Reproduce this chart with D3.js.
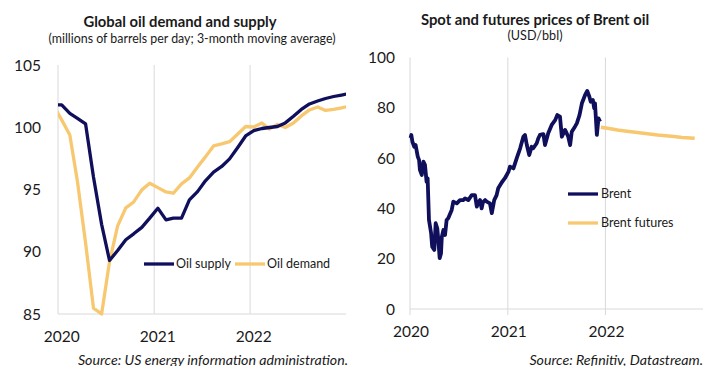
<!DOCTYPE html>
<html><head><meta charset="utf-8">
<script src="https://cdn.jsdelivr.net/npm/d3@7"></script>
<style>
html,body{margin:0;padding:0;background:#fff;}
text{font-family:Lato,"Noto Sans",sans-serif;fill:#1a1a1a;}
</style></head>
<body><svg id="c" width="723" height="384"></svg>
<script>
// ---------- DATA: left chart (monthly, 3-month moving average, mb/d) ----------
const leftMonths = ["2019-12","2020-01","2020-02","2020-03","2020-04","2020-05","2020-06","2020-07","2020-08","2020-09","2020-10","2020-11","2020-12",
  "2021-01","2021-02","2021-03","2021-04","2021-05","2021-06","2021-07","2021-08","2021-09","2021-10","2021-11","2021-12",
  "2022-01","2022-02","2022-03","2022-04","2022-05","2022-06","2022-07","2022-08","2022-09","2022-10","2022-11","2022-12","2023-01"];
const oilSupply = [101.8,101.79,101.12,100.72,100.27,96.0,92.2,89.3,90.1,90.96,91.44,91.96,92.7,
  93.5,92.56,92.7,92.7,94.17,94.83,95.7,96.4,96.85,97.46,98.38,99.3,
  99.73,99.9,99.98,100.06,100.35,100.88,101.43,101.87,102.11,102.31,102.47,102.59,102.71];
const oilDemand = [101.73,100.59,99.38,95.64,90.7,85.47,85.0,89.19,92.08,93.52,94.0,94.97,95.5,
  95.15,94.8,94.7,95.45,95.93,96.81,97.62,98.5,98.66,98.84,99.46,100.06,
  100.02,100.34,99.86,100.22,99.98,100.34,100.91,101.39,101.63,101.35,101.43,101.55,101.71];
const leftYTicks = [85,90,95,100,105];
const yearTicks = ["2020","2021","2022"];

// ---------- DATA: right chart (USD/bbl) ----------
const brentDates = ["2020-01-03","2020-01-06","2020-01-10","2020-01-17","2020-01-22","2020-01-30","2020-02-04","2020-02-07","2020-02-14","2020-02-20",
  "2020-02-26","2020-02-29","2020-03-03","2020-03-07","2020-03-12","2020-03-20","2020-03-24","2020-04-01","2020-04-06","2020-04-12",
  "2020-04-16","2020-04-21","2020-04-26","2020-04-29","2020-05-05","2020-05-11","2020-05-17","2020-05-23","2020-06-05","2020-06-11",
  "2020-06-24","2020-07-06","2020-07-18","2020-07-25","2020-08-06","2020-08-19","2020-08-31","2020-09-07","2020-09-11","2020-09-19",
  "2020-09-25","2020-09-30","2020-10-08","2020-10-14","2020-10-26","2020-11-02","2020-11-11","2020-11-20","2020-11-26","2020-12-09",
  "2020-12-21","2021-01-03","2021-01-09","2021-01-22","2021-02-03","2021-02-16","2021-02-28","2021-03-06","2021-03-13","2021-03-22",
  "2021-03-31","2021-04-06","2021-04-19","2021-04-25","2021-05-01","2021-05-14","2021-05-20","2021-06-01","2021-06-14","2021-06-27",
  "2021-07-05","2021-07-15","2021-07-22","2021-08-03","2021-08-09","2021-08-15","2021-08-22","2021-08-28","2021-09-09","2021-09-16",
  "2021-09-26","2021-10-05","2021-10-17","2021-10-25","2021-11-02","2021-11-07","2021-11-15","2021-11-20","2021-11-23","2021-11-30",
  "2021-12-06","2021-12-12"];
const brentValues = [68.0,69.2,66.5,64.5,65.2,60.6,59.2,55.3,53.3,58.6,
  57.3,54.0,50.6,52.0,35.4,30.1,24.8,23.5,34.1,32.1,
  27.4,20.2,22.1,28.7,31.4,29.4,35.4,36.1,39.4,42.7,
  42.0,43.3,43.3,44.0,43.3,45.3,45.3,40.7,42.0,43.3,
  40.0,42.5,43.3,42.7,42.0,38.1,43.3,45.3,48.0,50.3,
  52.0,54.5,56.6,55.9,59.9,63.9,68.5,69.2,65.2,61.2,
  64.5,63.9,65.9,67.9,69.2,69.5,65.2,69.9,73.2,75.1,
  77.1,76.5,68.5,71.2,69.9,68.5,65.2,70.5,72.5,73.8,
  77.1,81.8,85.1,86.7,84.4,82.4,83.1,79.8,81.8,69.2,
  75.8,74.5];
const futuresDates = ["2021-12-15","2022-01-15","2022-02-15","2022-03-15","2022-04-15","2022-05-15","2022-06-15",
  "2022-07-15","2022-08-15","2022-09-15","2022-10-15","2022-11-15","2022-12-01"];
const futuresValues = [72.3,71.8,71.2,70.8,70.4,70.0,69.6,69.2,68.9,68.6,68.2,68.0,67.9];
const rightYTicks = [0,20,40,60,80,100];

// ---------- STYLE ----------
const NAVY = "#0f0f5b", GOLD = "#f7c870", GRID = "#d9d9d9";
const parse = d3.utcParse("%Y-%m-%d");
const svg = d3.select("#c");
svg.append("rect").attr("width",723).attr("height",384).attr("fill","#fff");
svg.append("defs").append("clipPath").attr("id","srcclip")
  .append("rect").attr("x",0).attr("y",0).attr("width",723).attr("height",366);

// ================= LEFT CHART =================
{
  const x = d3.scaleUtc().domain([parse("2020-01-01"), parse("2023-01-01")]).range([58, 346]);
  const y = d3.scaleLinear().domain([85, 105]).range([314, 65]);
  const g = svg.append("g");
  g.append("defs").append("clipPath").attr("id","lclip")
    .append("rect").attr("x",58).attr("y",0).attr("width",288).attr("height",384);

  g.selectAll(".vg").data(yearTicks).join("line")
    .attr("x1",d=>x(parse(d+"-01-01"))).attr("x2",d=>x(parse(d+"-01-01")))
    .attr("y1",y(105)).attr("y2",y(85)).attr("stroke",GRID).attr("stroke-width",1);
  g.append("line").attr("x1",x.range()[0]).attr("x2",x.range()[1])
    .attr("y1",y(85)).attr("y2",y(85)).attr("stroke",GRID).attr("stroke-width",1);

  g.selectAll(".yl").data(leftYTicks).join("text")
    .attr("x",41).attr("y",d=>y(d)).attr("dy","0.36em").attr("text-anchor","end")
    .attr("font-size",15.5).text(d=>d);
  g.selectAll(".xl").data(yearTicks).join("text")
    .attr("x",d=>x(parse(d+"-01-15"))).attr("y",342).attr("text-anchor","middle")
    .attr("font-size",15.5).text(d=>d);

  const pts = arr => arr.map((v,i)=>({d:parse(leftMonths[i]+"-15"), v}));
  const line = d3.line().x(p=>x(p.d)).y(p=>y(p.v));
  const lines = g.append("g").attr("clip-path","url(#lclip)");
  lines.append("path").datum(pts(oilDemand)).attr("d",line).attr("fill","none")
    .attr("stroke",GOLD).attr("stroke-width",3.3).attr("stroke-linejoin","round");
  lines.append("path").datum(pts(oilSupply)).attr("d",line).attr("fill","none")
    .attr("stroke",NAVY).attr("stroke-width",3.3).attr("stroke-linejoin","round");

  const leg = [{name:"Oil supply",c:NAVY,x:144},{name:"Oil demand",c:GOLD,x:235}];
  const lg = g.selectAll(".lg").data(leg).join("g");
  lg.append("line").attr("x1",d=>d.x).attr("x2",d=>d.x+30).attr("y1",264).attr("y2",264)
    .attr("stroke",d=>d.c).attr("stroke-width",3.3);
  lg.append("text").attr("x",d=>d.x+32).attr("y",264).attr("dy","0.35em")
    .attr("font-size",12.5).text(d=>d.name);

  g.append("text").attr("x",180).attr("y",27).attr("text-anchor","middle")
    .attr("font-size",14.8).attr("font-weight","bold").text("Global oil demand and supply");
  g.append("text").attr("x",192).attr("y",43).attr("text-anchor","middle")
    .attr("font-size",12.4).text("(millions of barrels per day; 3-month moving average)");
  g.append("text").attr("x",348).attr("y",365).attr("text-anchor","end").attr("clip-path","url(#srcclip)")
    .attr("font-size",14.2).attr("font-style","italic").text("Source: US energy information administration.");
}

// ================= RIGHT CHART =================
{
  const x = d3.scaleUtc().domain([parse("2020-01-01"), parse("2023-01-01")]).range([410, 703]);
  const y = d3.scaleLinear().domain([0, 100]).range([309, 57.5]);
  const g = svg.append("g");

  g.selectAll(".vg").data(yearTicks).join("line")
    .attr("x1",d=>x(parse(d+"-01-01"))).attr("x2",d=>x(parse(d+"-01-01")))
    .attr("y1",y(100)).attr("y2",y(0)+6).attr("stroke",GRID).attr("stroke-width",1);
  g.append("line").attr("x1",x.range()[0]).attr("x2",x.range()[1])
    .attr("y1",y(0)).attr("y2",y(0)).attr("stroke",GRID).attr("stroke-width",1);

  g.selectAll(".yl").data(rightYTicks).join("text")
    .attr("x",395).attr("y",d=>y(d)).attr("dy","0.36em").attr("text-anchor","end")
    .attr("font-size",15.5).text(d=>d);
  g.selectAll(".xl").data(yearTicks).join("text")
    .attr("x",d=>x(parse(d+"-01-01"))+1).attr("y",337).attr("text-anchor","middle")
    .attr("font-size",15.5).text(d=>d);

  const line = d3.line().x(p=>x(p.d)).y(p=>y(p.v));
  const brent = brentValues.map((v,i)=>({d:parse(brentDates[i]),v}));
  const fut = futuresValues.map((v,i)=>({d:parse(futuresDates[i]),v}));
  g.append("path").datum(fut).attr("d",line).attr("fill","none")
    .attr("stroke",GOLD).attr("stroke-width",3.5).attr("stroke-linejoin","round");
  g.append("path").datum(brent).attr("d",line).attr("fill","none")
    .attr("stroke",NAVY).attr("stroke-width",3.8).attr("stroke-linejoin","round");

  const leg = [{name:"Brent",c:NAVY,y:194},{name:"Brent futures",c:GOLD,y:223}];
  const lg = g.selectAll(".lg").data(leg).join("g");
  lg.append("line").attr("x1",568).attr("x2",598).attr("y1",d=>d.y).attr("y2",d=>d.y)
    .attr("stroke",d=>d.c).attr("stroke-width",3.3);
  lg.append("text").attr("x",601).attr("y",d=>d.y).attr("dy","0.35em")
    .attr("font-size",12.5).text(d=>d.name);

  g.append("text").attr("x",535).attr("y",25).attr("text-anchor","middle")
    .attr("font-size",14.8).attr("font-weight","bold").text("Spot and futures prices of Brent oil");
  g.append("text").attr("x",535).attr("y",40).attr("text-anchor","middle")
    .attr("font-size",12.6).text("(USD/bbl)");
  g.append("text").attr("x",703).attr("y",365).attr("text-anchor","end").attr("clip-path","url(#srcclip)")
    .attr("font-size",14.2).attr("font-style","italic").text("Source: Refinitiv, Datastream.");
}
</script></body></html>
